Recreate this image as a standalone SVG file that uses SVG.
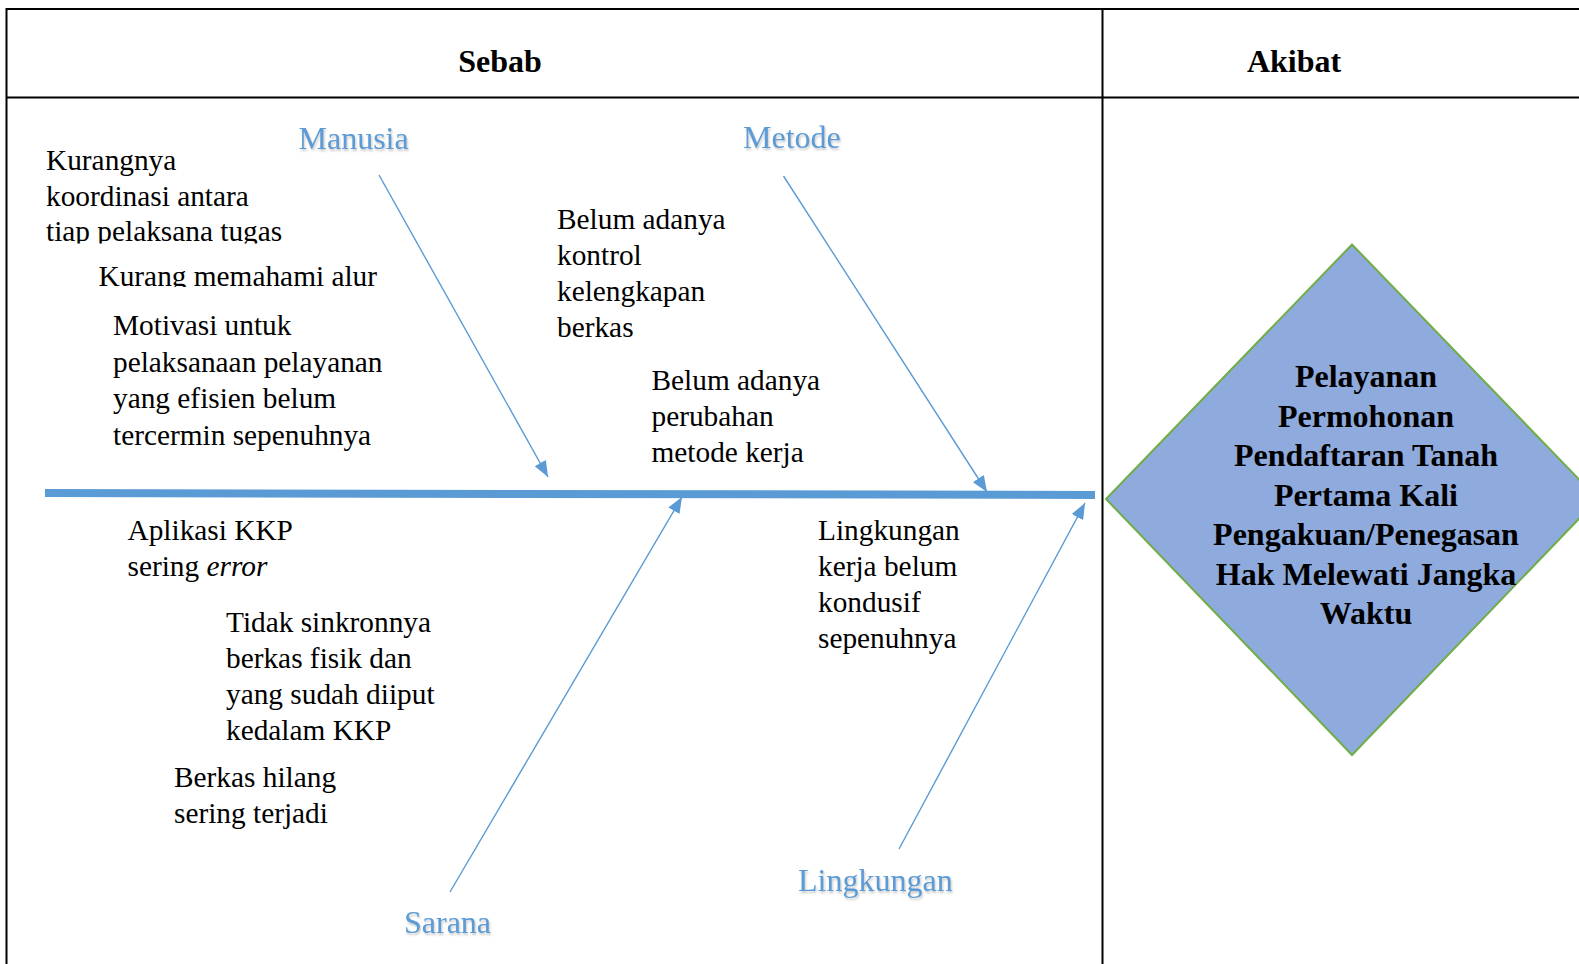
<svg xmlns="http://www.w3.org/2000/svg" width="1579" height="964" viewBox="0 0 1579 964">
  <style>
    .grid { stroke: #000; stroke-width: 2; fill: none; }
    .head { font-family: "Liberation Serif", "Times New Roman", serif; font-size: 32px; font-weight: bold; fill: #000; text-anchor: middle; }
    .body { font-family: "Liberation Serif", "Times New Roman", serif; font-size: 29.33px; fill: #000; }
    .cat { font-family: "Liberation Serif", "Times New Roman", serif; font-size: 32px; fill: #5B9BD5; filter: url(#soft); }
    .bone { stroke: #5B9BD5; stroke-width: 1.4; fill: none; marker-end: url(#tip); }
    .spine { stroke: #5B9BD5; stroke-width: 8; fill: none; }
    .effect { font-family: "Liberation Serif", "Times New Roman", serif; font-size: 32px; font-weight: bold; fill: #000; text-anchor: middle; }
  </style>
  <defs>
    <marker id="tip" markerUnits="userSpaceOnUse" markerWidth="16" markerHeight="13" refX="16" refY="6.5" orient="auto">
      <path d="M0,0 L16,6.5 L0,13 z" fill="#5B9BD5"/>
    </marker>
    <filter id="soft" x="-10%" y="-30%" width="120%" height="160%">
      <feDropShadow dx="1" dy="2" stdDeviation="1" flood-color="#808080" flood-opacity="0.45"/>
    </filter>
    <clipPath id="clipA"><rect x="0" y="100" width="400" height="143.5"/></clipPath>
    <clipPath id="clipB"><rect x="0" y="250" width="420" height="37"/></clipPath>
  </defs>

  <rect width="1579" height="964" fill="#fff"/>

  <!-- table frame -->
  <g id="table">
    <line class="grid" x1="6.5" y1="9" x2="1579" y2="9"/>
    <line class="grid" x1="6.5" y1="8" x2="6.5" y2="964"/>
    <line class="grid" x1="6.5" y1="97.5" x2="1579" y2="97.5"/>
    <line class="grid" x1="1102.5" y1="8" x2="1102.5" y2="964"/>
    <text class="head" x="500" y="72">Sebab</text>
    <text class="head" x="1294" y="72">Akibat</text>
  </g>

  <!-- fishbone spine and category bones -->
  <g id="connectors">
    <line class="spine" x1="45" y1="493" x2="1095" y2="495"/>
    <line class="bone" x1="379" y1="175" x2="548" y2="477"/>
    <line class="bone" x1="783.5" y1="176" x2="987" y2="492"/>
    <line class="bone" x1="450" y1="892" x2="682" y2="497"/>
    <line class="bone" x1="899" y1="849" x2="1085" y2="503"/>
  </g>

  <!-- category labels -->
  <g id="cat-manusia"><text class="cat" x="298.5" y="149">Manusia</text></g>
  <g id="cat-metode"><text class="cat" x="743" y="147.5">Metode</text></g>
  <g id="cat-sarana"><text class="cat" x="404" y="933">Sarana</text></g>
  <g id="cat-lingkungan"><text class="cat" x="798" y="891">Lingkungan</text></g>

  <!-- causes: Manusia -->
  <g id="cause-koordinasi" clip-path="url(#clipA)">
    <text class="body" x="46" y="169.5">Kurangnya</text>
    <text class="body" x="46" y="205.5">koordinasi antara</text>
    <text class="body" x="46" y="241">tiap pelaksana tugas</text>
  </g>
  <g id="cause-alur" clip-path="url(#clipB)">
    <text class="body" x="98.5" y="285.5">Kurang memahami alur</text>
  </g>
  <g id="cause-motivasi">
    <text class="body" x="113" y="335">Motivasi untuk</text>
    <text class="body" x="113" y="371.5">pelaksanaan pelayanan</text>
    <text class="body" x="113" y="408">yang efisien belum</text>
    <text class="body" x="113" y="444.5">tercermin sepenuhnya</text>
  </g>

  <!-- causes: Metode -->
  <g id="cause-kontrol">
    <text class="body" x="557" y="229">Belum adanya</text>
    <text class="body" x="557" y="265">kontrol</text>
    <text class="body" x="557" y="301">kelengkapan</text>
    <text class="body" x="557" y="337">berkas</text>
  </g>
  <g id="cause-metode-kerja">
    <text class="body" x="651.5" y="389.5">Belum adanya</text>
    <text class="body" x="651.5" y="425.5">perubahan</text>
    <text class="body" x="651.5" y="462">metode kerja</text>
  </g>

  <!-- causes: Sarana -->
  <g id="cause-aplikasi">
    <text class="body" x="127.5" y="539.5">Aplikasi KKP</text>
    <text class="body" x="127.5" y="575.5">sering <tspan font-style="italic">error</tspan></text>
  </g>
  <g id="cause-sinkron">
    <text class="body" x="226" y="631.5">Tidak sinkronnya</text>
    <text class="body" x="226" y="667.5">berkas fisik dan</text>
    <text class="body" x="226" y="704">yang sudah diiput</text>
    <text class="body" x="226" y="740">kedalam KKP</text>
  </g>
  <g id="cause-hilang">
    <text class="body" x="174" y="786.5">Berkas hilang</text>
    <text class="body" x="174" y="822.5">sering terjadi</text>
  </g>

  <!-- causes: Lingkungan -->
  <g id="cause-lingkungan">
    <text class="body" x="818" y="539.5">Lingkungan</text>
    <text class="body" x="818" y="575.5">kerja belum</text>
    <text class="body" x="818" y="612">kondusif</text>
    <text class="body" x="818" y="648">sepenuhnya</text>
  </g>

  <!-- effect -->
  <g id="effect">
    <polygon points="1352,244.5 1106,499 1352,755 1598,499" fill="#8FAADC" stroke="#70AD47" stroke-width="2"/>
    <text class="effect" x="1366" y="387">Pelayanan</text>
    <text class="effect" x="1366" y="426.5">Permohonan</text>
    <text class="effect" x="1366" y="466">Pendaftaran Tanah</text>
    <text class="effect" x="1366" y="505.5">Pertama Kali</text>
    <text class="effect" x="1366" y="545">Pengakuan/Penegasan</text>
    <text class="effect" x="1366" y="584.5">Hak Melewati Jangka</text>
    <text class="effect" x="1366" y="624">Waktu</text>
  </g>
</svg>
